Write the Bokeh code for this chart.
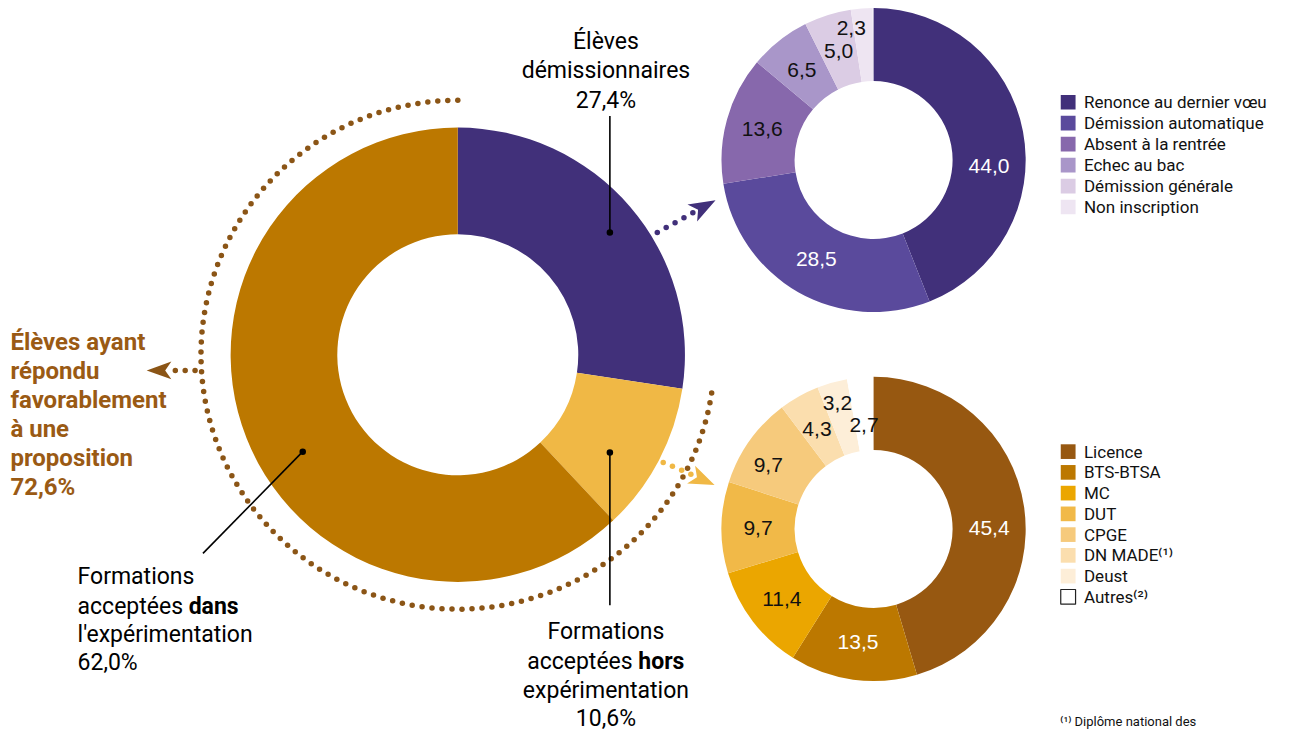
import math
import numpy as np
from bokeh.plotting import figure
from bokeh.models import Range1d, ColumnDataSource
from bokeh.core.properties import value
from bokeh.embed import file_html
from bokeh.resources import INLINE

# ---------------- data ----------------
main_labels = ["Élèves démissionnaires",
               "Formations acceptées hors expérimentation",
               "Formations acceptées dans l'expérimentation"]
main_values = [27.4, 10.6, 62.0]
favorable_label = "Élèves ayant répondu favorablement à une proposition"
favorable_value = 72.6

dem_labels = ["Renonce au dernier vœu", "Démission automatique", "Absent à la rentrée",
              "Echec au bac", "Démission générale", "Non inscription"]
dem_values = [44.0, 28.5, 13.6, 6.5, 5.0, 2.3]

form_labels = ["Licence", "BTS-BTSA", "MC", "DUT", "CPGE", "DN MADE⁽¹⁾", "Deust", "Autres⁽²⁾"]
form_values = [45.4, 13.5, 11.4, 9.7, 9.7, 4.3, 3.2, 2.7]

footnote = "⁽¹⁾ Diplôme national des"

# ---------------- style ----------------
W, H = 1280, 731          # plot size in screen pixels
RW, RH = 1296, 747        # layout coordinate space (reference pixels)
FONT = "Roboto"
NUMFONT = "Liberation Sans"
FS = 23

main_colors = ["#41307A", "#F0B845", "#BC7800"]
dem_colors = ["#41307A", "#5A4A9C", "#8768AC", "#A996C9", "#DBCCE4", "#EEE5F2"]
dem_text = ["white", "white", "#111111", "#111111", "#111111", "#111111"]
dem_da = [14, 0, 0, 0, 0, -5]
dem_dr = [0, 0, 0, 0, 0, 20]
form_colors = ["#975811", "#BC7800", "#EBA600", "#F1B948", "#F6CA7C", "#FBDEAE", "#FDEED8", "#FFFFFF"]
form_text = ["white", "white", "#111111", "#111111", "#111111", "#111111", "#111111", "#111111"]
form_da = [8, 0, 0, 0, -4, 0, 0, 0]
form_dr = [0, 0, 0, 0, 8, 0, 17, -10]
BROWN = "#8B5516"
BROWN_TEXT = "#9A5A14"

# approximate Roboto advance widths (em) for in-line placement of bold words
CW = {"a": .544, "c": .523, "d": .561, "e": .530, "é": .530, "h": .551, "n": .552,
      "o": .569, "p": .561, "r": .338, "s": .517, "t": .326, " ": .248}
CWB = {"d": .566, "a": .549, "n": .563, "s": .528, "h": .563, "o": .573, "r": .354}


def tw(s, size, bold=False):
    tab = CWB if bold else CW
    return sum(tab.get(c, CW.get(c, .55)) for c in s) * size * RW / W


def Y(yref):
    return RH - yref


p = figure(width=W, height=H, x_range=Range1d(0, RW), y_range=Range1d(0, RH),
           output_backend="svg", toolbar_location=None, x_axis_type=None, y_axis_type=None,
           min_border=0, outline_line_color=None, background_fill_color="white",
           border_fill_color="white")


def donut(cx, cy, r_in, r_out, vals, colors):
    cum = np.concatenate([[0.0], np.cumsum(vals)])
    a0 = cum[:-1] / 100.0 * 2 * math.pi
    a1 = cum[1:] / 100.0 * 2 * math.pi
    src = ColumnDataSource(dict(start=list(math.pi / 2 - a1), end=list(math.pi / 2 - a0),
                                color=colors))
    p.annular_wedge(x=cx, y=Y(cy), inner_radius=r_in, outer_radius=r_out,
                    start_angle="start", end_angle="end", fill_color="color",
                    line_color=None, source=src)
    return a0, a1


def donut_labels(cx, cy, r_mid, vals, a0, a1, colors, da, dr, size=21):
    xs, ys, txts = [], [], []
    for v, s, e, d_a, d_r in zip(vals, a0, a1, da, dr):
        m = (s + e) / 2 + math.radians(d_a)
        r = r_mid + d_r
        xs.append(cx + r * math.sin(m))
        ys.append(Y(cy) + r * math.cos(m))
        txts.append(f"{v:.1f}".replace(".", ","))
    p.text(x=xs, y=ys, text=txts, text_color=colors, text_align="center",
           text_baseline="middle", text_font=value(NUMFONT), text_font_size=f"{size}px")


def txt(x, yref, s, size=FS, color="black", align="left", bold=False, font=FONT):
    p.text(x=[x], y=[Y(yref)], text=[s], text_font=value(font), text_font_size=f"{size}px",
           text_color=color, text_align=align, text_baseline="middle",
           text_font_style="bold" if bold else "normal")


def pct(v):
    return f"{v:.1f}".replace(".", ",") + "%"


def arrowhead(tip, frm, color, L=26, hw=10, notch=0.75):
    tx, ty = tip[0], Y(tip[1])
    fx, fy = frm[0], Y(frm[1])
    dx, dy = tx - fx, ty - fy
    n = math.hypot(dx, dy)
    dx, dy = dx / n, dy / n
    nx, ny = -dy, dx
    bx, by = tx - L * dx, ty - L * dy
    kx, ky = tx - notch * L * dx, ty - notch * L * dy
    p.patch(x=[tx, bx + hw * nx, kx, bx - hw * nx], y=[ty, by + hw * ny, ky, by - hw * ny],
            fill_color=color, line_color=None)


def dots(start, end, n, color, size=5.5):
    xs = list(np.linspace(start[0], end[0], n))
    ys = [Y(v) for v in np.linspace(start[1], end[1], n)]
    p.scatter(x=xs, y=ys, size=size, fill_color=color, line_color=None)


# ---------------- main donut ----------------
MCX, MCY = 463, 362
donut(MCX, MCY, 122, 230, main_values, main_colors)

# dotted arc around the favourable share
R_ARC = 260
span = favorable_value / 100.0 * 2 * math.pi
n_dots = int(R_ARC * span / 10)
t = np.linspace(0, span, n_dots)
p.scatter(x=list(MCX + R_ARC * np.cos(math.pi / 2 + t)),
          y=list(Y(MCY) + R_ARC * np.sin(math.pi / 2 + t)),
          size=5.5, fill_color=BROWN, line_color=None)

# arrows
dots((177, 378), (197, 378), 3, BROWN)
arrowhead((148, 378), (197, 378), BROWN, L=25, hw=9)
dots((665, 237), (701, 217), 5, main_colors[0])
arrowhead((724, 204), (665, 237), main_colors[0], L=27, hw=10)
dots((671, 472), (699, 484), 4, main_colors[1])
arrowhead((723, 495), (671, 472), main_colors[1], L=26, hw=10)

# leader lines
p.line(x=[617, 617], y=[Y(118), Y(237)], line_color="black", line_width=1.6)
p.line(x=[205, 306], y=[Y(565), Y(461)], line_color="black", line_width=1.6)
p.line(x=[617, 617], y=[Y(462), Y(618)], line_color="black", line_width=1.6)
p.scatter(x=[617, 306, 617], y=[Y(237), Y(461), Y(462)], size=6.5,
          fill_color="black", line_color=None)

# main texts
txt(613, 42, "Élèves", align="center")
txt(613, 72, "démissionnaires", align="center")
txt(613, 102, pct(main_values[0]), align="center")

txt(78, 589, "Formations")
txt(78, 619, "acceptées")
txt(78 + tw("acceptées ", FS), 619, "dans", bold=True)
txt(78, 648, "l'expérimentation")
txt(78, 677, pct(main_values[2]))

w1 = tw("acceptées ", FS)
w2 = tw("hors", FS, bold=True)
x0 = 613 - (w1 + w2) / 2
txt(613, 645, "Formations", align="center")
txt(x0, 675, "acceptées")
txt(x0 + w1, 675, "hors", bold=True)
txt(613, 705, "expérimentation", align="center")
txt(613, 734, pct(main_values[1]), align="center")

for i, line in enumerate(["Élèves ayant", "répondu", "favorablement", "à une", "proposition",
                          pct(favorable_value)]):
    txt(10, 349 + i * 29.6, line, size=24, color=BROWN_TEXT, bold=True)

# ---------------- top donut ----------------
TCX, TCY = 884, 163
a0, a1 = donut(TCX, TCY, 80, 154, dem_values, dem_colors)
donut_labels(TCX, TCY, 117, dem_values, a0, a1, dem_text, dem_da, dem_dr)

# ---------------- bottom donut ----------------
BCX, BCY = 884, 540
a0, a1 = donut(BCX, BCY, 80, 154, form_values, form_colors)
donut_labels(BCX, BCY, 117, form_values, a0, a1, form_text, form_da, form_dr)

# ---------------- legends ----------------
LX = 1081
ly = [Y(104 + i * 21.4) for i in range(len(dem_labels))]
p.rect(x=[LX] * len(dem_labels), y=ly, width=15, height=15, fill_color=dem_colors,
       line_color=None)
p.text(x=[1097] * len(dem_labels), y=ly, text=dem_labels, text_font=value(FONT),
       text_font_size="17px", text_color="#111111", text_baseline="middle")

ly2 = [Y(461 + i * 21.2) for i in range(len(form_labels))]
p.rect(x=[LX] * len(form_labels), y=ly2, width=15, height=15, fill_color=form_colors,
       line_color=["#FFFFFF"] * (len(form_labels) - 1) + ["#222222"],
       line_alpha=[0] * (len(form_labels) - 1) + [1], line_width=1.2)
p.text(x=[1097] * len(form_labels), y=ly2, text=form_labels, text_font=value(FONT),
       text_font_size="17px", text_color="#111111", text_baseline="middle")

txt(1073, 737, footnote, size=13, color="#111111")

open("out.html", "w").write(file_html(p, INLINE))
